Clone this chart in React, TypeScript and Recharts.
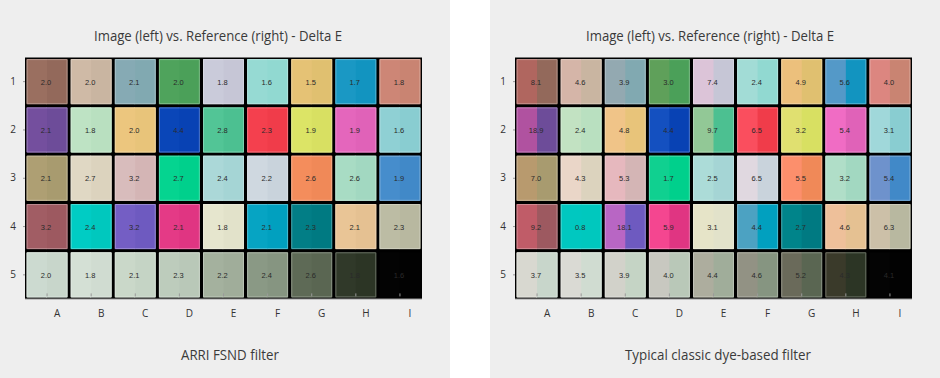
import React from 'react';
import { ScatterChart, Scatter, XAxis, YAxis, CartesianGrid } from 'recharts';

const COLUMNS = ['A', 'B', 'C', 'D', 'E', 'F', 'G', 'H', 'I'];
const ROWS = [1, 2, 3, 4, 5];

// Delta E per patch, row by row
const ARRI_DELTA = [
  [2.0, 2.0, 2.1, 2.0, 1.8, 1.6, 1.5, 1.7, 1.8],
  [2.1, 1.8, 2.0, 4.4, 2.8, 2.3, 1.9, 1.9, 1.6],
  [2.1, 2.7, 3.2, 2.7, 2.4, 2.2, 2.6, 2.6, 1.9],
  [3.2, 2.4, 3.2, 2.1, 1.8, 2.1, 2.3, 2.1, 2.3],
  [2.0, 1.8, 2.1, 2.3, 2.2, 2.4, 2.6, 1.8, 1.6],
];

const DYE_DELTA = [
  [8.1, 4.6, 3.9, 3.0, 7.4, 2.4, 4.9, 5.6, 4.0],
  [18.9, 2.4, 4.8, 4.4, 9.7, 6.5, 3.2, 5.4, 3.1],
  [7.0, 4.3, 5.3, 1.7, 2.5, 6.5, 5.5, 3.2, 5.4],
  [9.2, 0.8, 18.1, 5.9, 3.1, 4.4, 2.7, 4.6, 6.3],
  [3.7, 3.5, 3.9, 4.0, 4.4, 4.6, 5.2, 4.3, 4.1],
];

// reference chart colours (right half of every patch)
const REFERENCE_COLORS = [
  ['#93695b', '#c9b5a1', '#81a9b1', '#4ba059', '#c6c6d6', '#91d9d1', '#e0c070', '#1294c0', '#c98472'],
  ['#6d4c99', '#b9e0c0', '#e8c47a', '#0842b4', '#4cc091', '#f03c4a', '#d8e062', '#e062b8', '#89cdd1'],
  ['#a89b6f', '#dcd3be', '#d4b5b5', '#00d08c', '#a5d5d5', '#c9d3dc', '#f08958', '#a2d8c1', '#4189c8'],
  ['#9d5960', '#00c8be', '#6e5ac0', '#e03582', '#e2e2ca', '#01a0bf', '#007a82', '#e5c192', '#b8b8a0'],
  ['#c8d6cb', '#d0dcd1', '#c5d4c5', '#b9c8b8', '#a0ad9a', '#869581', '#5a6652', '#2c3525', '#020202'],
];

// filmed colours (left half)
const ARRI_COLORS = [
  ['#9a6f60', '#cfbaa6', '#86aab4', '#4fa35c', '#cacbda', '#96dad3', '#e5c275', '#1a98c4', '#cd8676'],
  ['#744f9e', '#bee3c4', '#ecc67e', '#0a46b8', '#52c596', '#f4404e', '#dce466', '#e466bc', '#8fd0d4'],
  ['#ae9f73', '#e0d8c4', '#d8bcbc', '#05d490', '#abd8d8', '#cfd8e0', '#f48d5c', '#a8dcc4', '#468dcc'],
  ['#a15d64', '#00ccc4', '#745ec4', '#e43a86', '#e6e6ce', '#06a4c3', '#027e86', '#e9c596', '#bcbca4'],
  ['#ccdad0', '#d4e0d5', '#cad8c9', '#bdccbc', '#a4b19e', '#8a9985', '#5e6a56', '#303929', '#030303'],
];

const DYE_COLORS = [
  ['#b0665f', '#d5b5a8', '#93a9b1', '#5fa05a', '#dcc4d8', '#a2dcd6', '#ecc07c', '#5499c8', '#dc8680'],
  ['#b052a0', '#c2e2c2', '#f0c488', '#1450c0', '#92c896', '#fa4e5e', '#e0e070', '#f06cc4', '#a0d8da'],
  ['#b89a6e', '#ead6c8', '#e6b8be', '#10d090', '#acdcd8', '#e0d8e0', '#fc8f6c', '#b0dec8', '#6e92cc'],
  ['#c05c68', '#00c8c0', '#b866c4', '#f44690', '#e6e4c8', '#4ca2c2', '#00848a', '#eec09a', '#ccc0a8'],
  ['#d8d8d0', '#dadad4', '#d2d2ca', '#c8c8c0', '#adad9e', '#929284', '#6a6a5a', '#3a3a2a', '#040404'],
];

const CHART_W = 450;
const CHART_H = 378;
const MARGIN = { top: 57.5, right: 28, bottom: 49, left: 0 };
const Y_AXIS_W = 25;
const X_AXIS_H = 30;
const CELL_W = (CHART_W - MARGIN.left - MARGIN.right - Y_AXIS_W) / COLUMNS.length;
const CELL_H = (CHART_H - MARGIN.top - MARGIN.bottom - X_AXIS_H) / ROWS.length;
const GAP = 1.6;

const LABEL_FONT = '"Open Sans", Roboto, sans-serif';

interface PatchDatum {
  col: number;
  row: number;
  value: number;
  left: string;
  right: string;
}

function buildPatches(deltas: number[][], filmed: string[][]): PatchDatum[] {
  const out: PatchDatum[] = [];
  ROWS.forEach((row, r) => {
    COLUMNS.forEach((_, c) => {
      out.push({ col: c + 1, row, value: deltas[r][c], left: filmed[r][c], right: REFERENCE_COLORS[r][c] });
    });
  });
  return out;
}

function lighten(hex: string, amt = 0.28): string {
  const n = parseInt(hex.slice(1), 16);
  const ch = [(n >> 16) & 255, (n >> 8) & 255, n & 255].map((v) => Math.round(v + (255 - v) * amt));
  return `rgb(${ch[0]},${ch[1]},${ch[2]})`;
}

function Patch(props: any) {
  const { cx, cy, payload } = props;
  if (cx == null || cy == null) return null;
  const w = CELL_W - GAP * 2;
  const h = CELL_H - GAP * 2;
  const x0 = cx - w / 2;
  const y0 = cy - h / 2;
  const dark = payload.row === 5 && payload.col === 9;
  return (
    <g>
      {/* right half first, left half overlaps it a bit so no seam shows */}
      <rect x={cx - 1} y={y0} width={w / 2 + 1} height={h} fill={payload.right} />
      <rect x={x0} y={y0} width={w / 2} height={h} fill={payload.left} />
      {!dark && (
        <>
          <path d={`M${cx},${y0 + 0.5}H${x0 + 0.5}V${y0 + h - 0.5}H${cx}`} fill="none" stroke={lighten(payload.left)} />
          <path d={`M${cx},${y0 + 0.5}H${x0 + w - 0.5}V${y0 + h - 0.5}H${cx}`} fill="none" stroke={lighten(payload.right)} />
        </>
      )}
      <text
        x={cx - 1}
        y={cy + 1}
        textAnchor="middle"
        dominantBaseline="middle"
        fontSize={7.5}
        fontFamily='"Liberation Sans", Arial, sans-serif'
        fill="#2a2a2a"
      >
        {payload.value.toFixed(1)}
      </text>
      {payload.row === 5 && (
        <line x1={cx} x2={cx} y1={y0 + h - 4} y2={y0 + h - 1} stroke="#9a9a9a" />
      )}
    </g>
  );
}

function ColumnTick({ x, y, payload }: any) {
  return (
    <text x={x + 10} y={y + 18} textAnchor="middle" fontSize={10} fontFamily={LABEL_FONT} fill="#333">
      {COLUMNS[payload.value - 1]}
    </text>
  );
}

function RowTick({ x, y, payload }: any) {
  return (
    <g>
      <line x1={x - 2} x2={x} y1={y} y2={y} stroke="#999" />
      <text x={x - 12} y={y + 3} textAnchor="middle" fontSize={10} fontFamily={LABEL_FONT} fill="#333">
        {payload.value}
      </text>
    </g>
  );
}

interface PanelProps {
  left: number;
  caption: string;
  captionWidth: number;
  captionX: number;
  titleX: number;
  data: PatchDatum[];
}

function Panel({ left, caption, captionWidth, captionX, titleX, data }: PanelProps) {
  return (
    <div style={{ position: 'absolute', left, top: 0, width: CHART_W, height: CHART_H, background: '#eeeeee' }}>
      <ScatterChart width={CHART_W} height={CHART_H} margin={MARGIN}>
        <CartesianGrid horizontal={false} vertical={false} fill="#000" fillOpacity={1} />
        <XAxis
          dataKey="col"
          type="number"
          domain={[0.5, 9.5]}
          ticks={[1, 2, 3, 4, 5, 6, 7, 8, 9]}
          height={X_AXIS_H}
          tickSize={0}
          tickMargin={0}
          tickLine={false}
          axisLine={{ stroke: '#999' }}
          tick={<ColumnTick />}
          interval={0}
        />
        <YAxis
          dataKey="row"
          type="number"
          reversed
          domain={[0.5, 5.5]}
          ticks={ROWS}
          width={Y_AXIS_W}
          tickSize={0}
          tickMargin={0}
          tickLine={false}
          axisLine={false}
          tick={<RowTick />}
          interval={0}
        />
        <Scatter data={data} shape={<Patch />} isAnimationActive={false} />
      </ScatterChart>
      <svg width={CHART_W} height={CHART_H} style={{ position: 'absolute', left: 0, top: 0, pointerEvents: 'none' }}>
        <text
          x={titleX}
          y={41}
          textAnchor="middle"
          fontSize={15}
          fontFamily={LABEL_FONT}
          fill="#3a3a3a"
          textLength={248}
          lengthAdjust="spacingAndGlyphs"
        >
          Image (left) vs. Reference (right) - Delta E
        </text>
        <text
          x={captionX}
          y={360}
          textAnchor="middle"
          fontSize={15}
          fontFamily={LABEL_FONT}
          fill="#3a3a3a"
          textLength={captionWidth}
          lengthAdjust="spacingAndGlyphs"
        >
          {caption}
        </text>
      </svg>
    </div>
  );
}

export default function App() {
  const arri = buildPatches(ARRI_DELTA, ARRI_COLORS);
  const dye = buildPatches(DYE_DELTA, DYE_COLORS);
  return (
    <div style={{ position: 'fixed', left: 0, top: 0, width: 940, height: 378, background: '#fff', overflow: 'hidden' }}>
      <Panel left={0} caption="ARRI FSND filter" captionWidth={98} captionX={230} titleX={218} data={arri} />
      <Panel left={490} caption="Typical classic dye-based filter" captionWidth={186} captionX={228} titleX={220} data={dye} />
    </div>
  );
}
